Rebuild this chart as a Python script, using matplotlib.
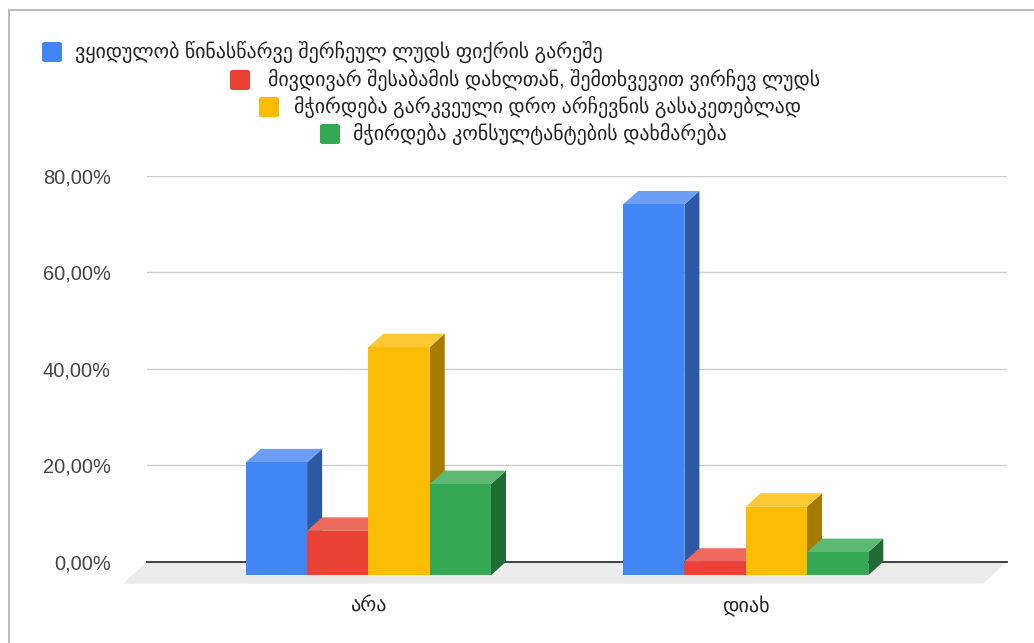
import matplotlib.pyplot as plt
from matplotlib.patches import Rectangle, Polygon, FancyBboxPatch
from matplotlib.lines import Line2D

plt.rcParams['font.family'] = ['Liberation Sans', 'DejaVu Sans']

categories = ['არა', 'დიახ']
series_names = [
    'ვყიდულობ წინასწარვე შერჩეულ ლუდს ფიქრის გარეშე',
    'მივდივარ შესაბამის დახლთან, შემთხვევით ვირჩევ ლუდს',
    'მჭირდება გარკვეული დრო არჩევნის გასაკეთებლად',
    'მჭირდება კონსულტანტების დახმარება',
]
# percent values per series, one entry per category
values = [
    [23.4, 76.9],
    [9.2, 2.8],
    [47.3, 14.2],
    [18.9, 4.8],
]
y_ticks = [0, 20, 40, 60, 80]

front_colors = ['#4285f4', '#ea4335', '#fbbc04', '#34a853']
top_colors = ['#6d9ef6', '#ee6a5f', '#fcc934', '#5db873']
side_colors = ['#2d58a6', '#a2271d', '#a67c00', '#1f6d34']

W, H = 1034, 643
fig = plt.figure(figsize=(W / 100, H / 100), dpi=100)

# back plane of the plot in pixels
left, right, y0, y80 = 147, 1007, 561.7, 176
ax = fig.add_axes([left / W, (H - y0) / H, (right - left) / W, (y0 - y80) / H])

spacing_px = 377.3
first_px = 236.4
x_lo = -first_px / spacing_px
x_hi = (right - left - first_px) / spacing_px
ax.set_xlim(x_lo, x_hi)
ax.set_ylim(0, 80)

px_x = spacing_px
px_y = (y0 - y80) / 80
dx = 15 / px_x
dy = 13.5 / px_y
w = 61.3 / px_x

# floor
fdx, fdy = 24 / px_x, 22 / px_y
floor = Polygon([(x_lo, 0), (x_hi, 0), (x_hi - fdx, -fdy), (x_lo - fdx, -fdy)],
                closed=True, facecolor='#ebebeb', edgecolor='none', clip_on=False, zorder=0.5)
ax.add_patch(floor)
ax.plot([x_lo, x_hi], [0, 0], color='#333333', lw=1.3, zorder=1, clip_on=False)

for c in range(len(categories)):
    for i in range(len(series_names)):
        v = values[i][c]
        xl = c - 2 * w + i * w
        z = 2 + i
        side = Polygon([(xl + w - dx, -dy), (xl + w, 0), (xl + w, v), (xl + w - dx, v - dy)],
                       closed=True, facecolor=side_colors[i], edgecolor='none', clip_on=False, zorder=z)
        top = Polygon([(xl - dx, v - dy), (xl + w - dx, v - dy), (xl + w, v), (xl, v)],
                      closed=True, facecolor=top_colors[i], edgecolor='none', clip_on=False, zorder=z)
        front = Rectangle((xl - dx, -dy), w, v, facecolor=front_colors[i],
                          edgecolor='none', clip_on=False, zorder=z)
        ax.add_patch(side)
        ax.add_patch(top)
        ax.add_patch(front)

ax.set_yticks(y_ticks)
ax.set_yticklabels([f'{t:.2f}'.replace('.', ',') + '%' for t in y_ticks])
ax.grid(axis='y', color='#cccccc', lw=1)
ax.set_axisbelow(True)
ax.tick_params(axis='y', length=0, pad=26, labelsize=14.4, labelcolor='#444444')

ax.set_xticks([c - dx for c in range(len(categories))])
ax.set_xticklabels(categories)
ax.tick_params(axis='x', length=0, pad=25, labelsize=14.5, labelcolor='#222222')
for s in ax.spines.values():
    s.set_visible(False)

# legend, staggered rows as in the original
legend_pos = [(42, 42, 75), (230, 70, 268), (259, 97, 294), (320, 124, 353)]
for i, (sx, sy, tx) in enumerate(legend_pos):
    sq = FancyBboxPatch((sx / W, 1 - (sy + 20) / H), 20 / W, 20 / H,
                        boxstyle='round,pad=0,rounding_size=0.003',
                        transform=fig.transFigure, facecolor=front_colors[i], edgecolor='none')
    fig.patches.append(sq)
    fig.text(tx / W, 1 - (sy + 10) / H, series_names[i], fontsize=14.3,
             color='#222222', va='center', ha='left')

# frame lines of the screenshot
fig.add_artist(Line2D([9 / W, 1], [1 - 10 / H, 1 - 10 / H], color='#bdbdbd', lw=1.5, transform=fig.transFigure))
fig.add_artist(Line2D([9 / W, 9 / W], [0, 1 - 10 / H], color='#bdbdbd', lw=1.5, transform=fig.transFigure))

fig.savefig('out.png', dpi=100)
